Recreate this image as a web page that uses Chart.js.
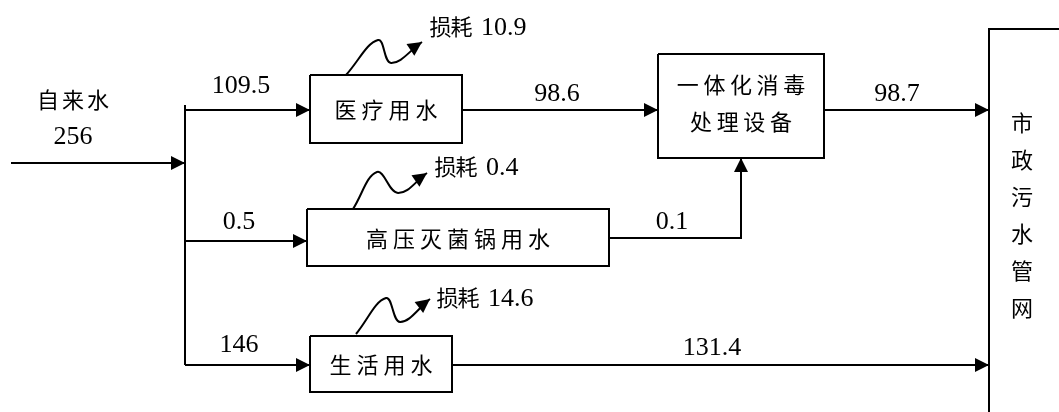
<!DOCTYPE html>
<html>
<head>
<meta charset="utf-8">
<script src="https://cdn.jsdelivr.net/npm/chart.js@4"></script>
<style>
  html, body { margin: 0; background: #fff; }
  #wrap { width: 1059px; height: 412px; }
</style>
</head>
<body>
<div id="wrap"><canvas id="flow"></canvas></div>
<script>
// 水量平衡 (m3/d)
const sourceName = "自来水";
const supply = 256;
const units = ["医疗用水", "高压灭菌锅用水", "生活用水"];
const unitIn = [109.5, 0.5, 146];
const unitLoss = [10.9, 0.4, 14.6];
const unitOut = [98.6, 0.1, 131.4];
const plantName = ["一体化消毒", "处理设备"];
const treated = 98.7;
const sinkName = "市政污水管网";

// layout, in axis units (axis spans the canvas 0..1059 x 0..412)
const trunk = { x: 185, y0: 105, y1: 365, inY: 163, inX0: 11 };
const rowY = [110, 241, 365];
const outY = [110, 238, 365];
const boxes = [
  { x0: 310, x1: 462, y0: 75, y1: 143 },
  { x0: 307, x1: 609, y0: 209, y1: 266 },
  { x0: 310, x1: 452, y0: 336, y1: 392 },
];
const plant = { x0: 658, x1: 824, y0: 54, y1: 158 };
const sink = { x0: 989, x1: 1075, y0: 29, y1: 420 };
const joinX = 741;
// squiggles: start, peak, valley, tip
const lossPaths = [
  [[346, 75], [378, 40], [391, 63], [422, 42]],
  [[353, 209], [377, 172], [398, 193], [427, 173]],
  [[356, 334], [386, 298], [400, 322], [430, 299]],
];
const lossText = [[428, 27], [433, 167], [435, 298]];
const inLabelPos = [[241, 86], [239, 222], [239, 345]];
const outLabelPos = [[557, 94], [672, 222], [712, 348]];

const NUM_FONT = '26px "Liberation Serif"';
const CJK_FONT = '22px "Noto Sans CJK SC"';

const pts = (arr) => arr.map(([x, y]) => ({ x, y }));
const rect = (b) => pts([[b.x0, b.y0], [b.x1, b.y0], [b.x1, b.y1], [b.x0, b.y1], [b.x0, b.y0]]);

const datasets = [];
function addLine(points, arrow, tension) {
  datasets.push({
    data: points,
    showLine: true,
    pointRadius: 0,
    borderColor: "#000",
    borderWidth: 2,
    fill: false,
    tension: tension || 0,
    arrow: !!arrow,
  });
}

addLine(pts([[trunk.inX0, trunk.inY], [trunk.x, trunk.inY]]), true);
addLine(pts([[trunk.x, trunk.y0], [trunk.x, trunk.y1]]));
boxes.forEach((b, i) => {
  addLine(pts([[trunk.x, rowY[i]], [b.x0, rowY[i]]]), true);
  addLine(rect(b));
  addLine(pts(lossPaths[i]), true, 0.4);
});
addLine(pts([[boxes[0].x1, outY[0]], [plant.x0, outY[0]]]), true);
addLine(pts([[boxes[1].x1, outY[1]], [joinX, outY[1]], [joinX, plant.y1]]), true);
addLine(pts([[boxes[2].x1, outY[2]], [sink.x0, outY[2]]]), true);
addLine(rect(plant));
addLine(pts([[plant.x1, outY[0]], [sink.x0, outY[0]]]), true);
addLine(pts([[sink.x1, sink.y0], [sink.x0, sink.y0], [sink.x0, sink.y1]]));

// text items in axis units
const labels = [
  { t: sourceName, x: 73, y: 100, cjk: true, pitch: 25 },
  { t: String(supply), x: 73, y: 137 },
  { t: String(treated), x: 897, y: 94 },
  { t: plantName[0], x: (plant.x0 + plant.x1) / 2, y: 85, cjk: true, pitch: 26.6 },
  { t: plantName[1], x: (plant.x0 + plant.x1) / 2, y: 122, cjk: true, pitch: 26.6 },
];
units.forEach((u, i) => {
  const b = boxes[i];
  labels.push({ t: u, x: (b.x0 + b.x1) / 2, y: (b.y0 + b.y1) / 2 + 1, cjk: true, pitch: 27 });
  labels.push({ t: String(unitIn[i]), x: inLabelPos[i][0], y: inLabelPos[i][1] });
  labels.push({ t: String(unitOut[i]), x: outLabelPos[i][0], y: outLabelPos[i][1] });
  labels.push({ t: "损耗", x: lossText[i][0] + 23, y: lossText[i][1], cjk: true, pitch: 21 });
  labels.push({ t: String(unitLoss[i]), x: lossText[i][0] + 53, y: lossText[i][1] + 1, left: true });
});

const arrowPlugin = {
  id: "arrows",
  afterDatasetsDraw(chart) {
    const ctx = chart.ctx;
    ctx.save();
    ctx.fillStyle = "#000";
    chart.data.datasets.forEach((ds, i) => {
      if (!ds.arrow) return;
      const el = chart.getDatasetMeta(i).data;
      const tip = el[el.length - 1], prev = el[el.length - 2];
      const a = Math.atan2(tip.y - prev.y, tip.x - prev.x);
      const len = 14, hw = 7;
      ctx.beginPath();
      ctx.moveTo(tip.x, tip.y);
      ctx.lineTo(tip.x - len * Math.cos(a) + hw * Math.sin(a), tip.y - len * Math.sin(a) - hw * Math.cos(a));
      ctx.lineTo(tip.x - len * Math.cos(a) - hw * Math.sin(a), tip.y - len * Math.sin(a) + hw * Math.cos(a));
      ctx.closePath();
      ctx.fill();
    });
    ctx.restore();
  },
};

const textPlugin = {
  id: "texts",
  afterDraw(chart) {
    const { ctx, scales: { x, y } } = chart;
    ctx.save();
    ctx.fillStyle = "#000";
    ctx.textBaseline = "middle";
    labels.forEach((l) => {
      const px = x.getPixelForValue(l.x), py = y.getPixelForValue(l.y);
      if (l.cjk) {
        ctx.font = CJK_FONT;
        ctx.textAlign = "center";
        const chars = [...l.t];
        const start = px - (chars.length - 1) * l.pitch / 2;
        chars.forEach((c, k) => ctx.fillText(c, start + k * l.pitch, py));
      } else {
        ctx.font = NUM_FONT;
        ctx.textAlign = l.left ? "left" : "center";
        ctx.fillText(l.t, px, py);
      }
    });
    // vertical name of the sewer network
    ctx.font = CJK_FONT;
    ctx.textAlign = "center";
    [...sinkName].forEach((c, k) => {
      ctx.fillText(c, x.getPixelForValue(1022), y.getPixelForValue(123 + k * 37));
    });
    ctx.restore();
  },
};

function draw() {
  new Chart(document.getElementById("flow"), {
    type: "scatter",
    data: { datasets },
    options: {
      responsive: true,
      maintainAspectRatio: false,
      animation: false,
      events: [],
      layout: { padding: 0 },
      plugins: { legend: { display: false }, tooltip: { enabled: false } },
      scales: {
        x: { type: "linear", min: 0, max: 1059, display: false },
        y: { type: "linear", min: 0, max: 412, reverse: true, display: false },
      },
    },
    plugins: [arrowPlugin, textPlugin],
  });
}

// make sure the fonts are ready before the canvas text is drawn
Promise.all([
  document.fonts.load(NUM_FONT, "0123456789."),
  document.fonts.load(CJK_FONT, units.join("") + sinkName + plantName.join("") + sourceName + "损耗"),
]).then(draw, draw);
</script>
</body>
</html>
